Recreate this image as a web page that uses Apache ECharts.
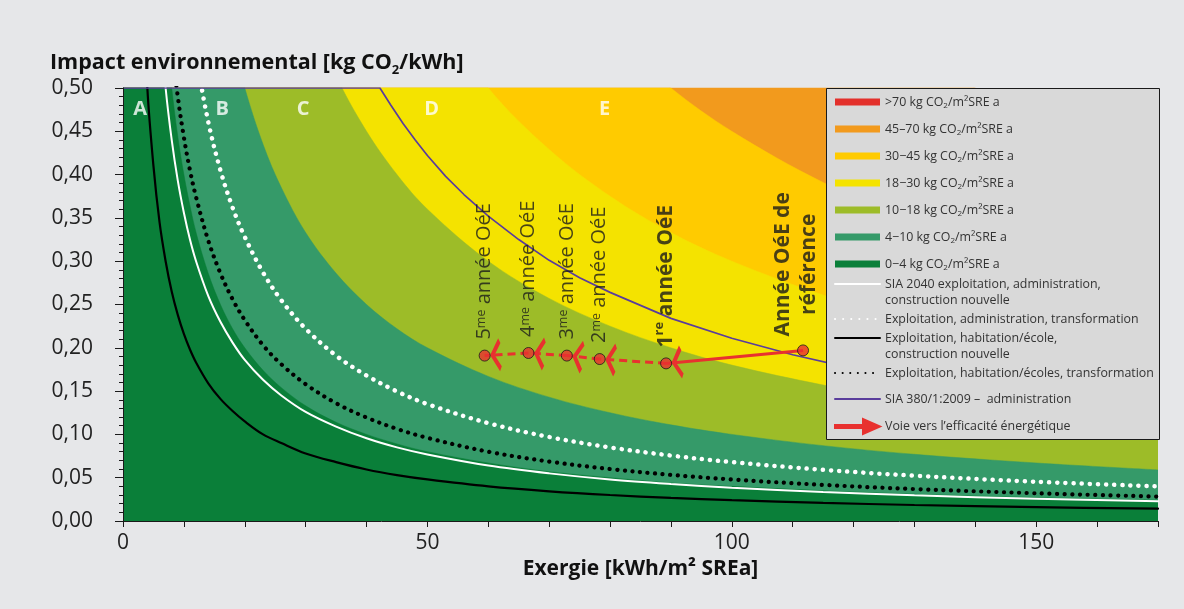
<!DOCTYPE html>
<html><head><meta charset="utf-8">
<script src="https://cdn.jsdelivr.net/npm/echarts@6/dist/echarts.min.js"></script>
<style>html,body{margin:0;padding:0;background:#e6e7e9;}#c{width:1184px;height:609px;}</style>
</head><body><div id="c"></div>
<script>
// ---- Data ----
// Exergy sample points [kWh/m² SREa]
const xs = [0, 2, 3, 4, 5, 6, 7, 8, 9, 10, 11, 12, 14, 16, 18, 20, 23, 26, 30, 35, 40, 45, 50, 60, 70, 80, 90, 100, 115, 130, 150, 170];
// Band upper limits [kg CO2/kWh]
const lim70 = [280, 35, 23.333, 17.5, 14, 11.667, 10, 8.75, 7.778, 7, 6.364, 5.833, 5, 4.375, 3.889, 3.5, 3.043, 2.692, 2.333, 2, 1.75, 1.556, 1.4, 1.167, 1, 0.875, 0.778, 0.7, 0.609, 0.538, 0.467, 0.412];
const lim45 = [180, 22.5, 15, 11.25, 9, 7.5, 6.429, 5.625, 5, 4.5, 4.091, 3.75, 3.214, 2.813, 2.5, 2.25, 1.957, 1.731, 1.5, 1.286, 1.125, 1, 0.9, 0.75, 0.643, 0.563, 0.5, 0.45, 0.391, 0.346, 0.3, 0.265];
const lim30 = [120, 15, 10, 7.5, 6, 5, 4.286, 3.75, 3.333, 3, 2.727, 2.5, 2.143, 1.875, 1.667, 1.5, 1.304, 1.154, 1, 0.857, 0.75, 0.667, 0.6, 0.5, 0.429, 0.375, 0.333, 0.3, 0.261, 0.231, 0.2, 0.176];
const lim18 = [72, 9, 6, 4.5, 3.6, 3, 2.571, 2.25, 2, 1.8, 1.636, 1.5, 1.286, 1.125, 1, 0.9, 0.783, 0.692, 0.6, 0.514, 0.45, 0.4, 0.36, 0.3, 0.257, 0.225, 0.2, 0.18, 0.157, 0.138, 0.12, 0.106];
const lim10 = [40, 5, 3.333, 2.5, 2, 1.667, 1.429, 1.25, 1.111, 1, 0.909, 0.833, 0.714, 0.625, 0.556, 0.5, 0.435, 0.385, 0.333, 0.286, 0.25, 0.222, 0.2, 0.167, 0.143, 0.125, 0.111, 0.1, 0.087, 0.077, 0.067, 0.059];
const lim4 = [16, 2, 1.333, 1, 0.8, 0.667, 0.571, 0.5, 0.444, 0.4, 0.364, 0.333, 0.286, 0.25, 0.222, 0.2, 0.174, 0.154, 0.133, 0.114, 0.1, 0.089, 0.08, 0.067, 0.057, 0.05, 0.044, 0.04, 0.035, 0.031, 0.027, 0.024];
// Reference lines
const sia2040New = [14, 1.75, 1.167, 0.875, 0.7, 0.583, 0.5, 0.44, 0.393, 0.356, 0.325, 0.3, 0.26, 0.23, 0.206, 0.186, 0.163, 0.145, 0.126, 0.109, 0.0955, 0.085, 0.0768, 0.064, 0.055, 0.048, 0.0428, 0.0385, 0.0335, 0.0296, 0.0257, 0.0227];
const adminTransf = [25, 3.2, 2.13, 1.6, 1.28, 1.07, 0.915, 0.8, 0.713, 0.642, 0.584, 0.537, 0.461, 0.405, 0.362, 0.328, 0.287, 0.255, 0.222, 0.191, 0.168, 0.1496, 0.135, 0.113, 0.097, 0.085, 0.0756, 0.068, 0.0591, 0.0523, 0.0453, 0.04];
const habNew = [10, 1.0, 0.667, 0.5, 0.41, 0.345, 0.3, 0.265, 0.238, 0.216, 0.198, 0.183, 0.159, 0.141, 0.127, 0.115, 0.1, 0.09, 0.078, 0.068, 0.0595, 0.053, 0.048, 0.04, 0.0343, 0.03, 0.0267, 0.024, 0.0209, 0.0185, 0.016, 0.0142];
const habTransf = [17, 2.2, 1.46, 1.1, 0.88, 0.735, 0.63, 0.55, 0.49, 0.443, 0.405, 0.374, 0.324, 0.286, 0.256, 0.232, 0.203, 0.181, 0.158, 0.136, 0.1195, 0.1064, 0.096, 0.08, 0.0686, 0.06, 0.0533, 0.048, 0.0417, 0.0369, 0.032, 0.0282];
// SIA 380/1:2009 administration
const siaX = [0, 42.2, 44, 46, 48, 50, 53, 56, 60, 65, 70, 75, 80, 90, 100, 110, 120, 135, 150, 170];
const siaY = [0.5, 0.5, 0.48, 0.459, 0.44, 0.422, 0.398, 0.377, 0.352, 0.325, 0.301, 0.281, 0.264, 0.234, 0.211, 0.192, 0.176, 0.156, 0.141, 0.124];
// Path towards energy efficiency
const pathX = [111.7, 89.2, 78.3, 72.9, 66.6, 59.4];
const pathY = [0.197, 0.182, 0.187, 0.191, 0.194, 0.191];
const pathLabels = ['Année OéE de\nréférence', '1re année OéE', '2me année OéE', '3me année OéE', '4me année OéE', '5me année OéE'];
// Zone letters
const zoneNames = ['A', 'B', 'C', 'D', 'E'];
const zoneX = [2.8, 16.3, 29.6, 50.7, 79.1];
const zoneY = [0.475, 0.475, 0.475, 0.475, 0.475];
// Legend names
const bandNames = ['>70 kg CO2/m²SRE a', '45–70 kg CO2/m²SRE a', '30−45 kg CO2/m²SRE a', '18−30 kg CO2/m²SRE a', '10−18 kg CO2/m²SRE a', '4−10 kg CO2/m²SRE a', '0−4 kg CO2/m²SRE a'];
const lineNames = ['SIA 2040 exploitation, administration,\nconstruction nouvelle', 'Exploitation, administration, transformation', 'Exploitation, habitation/école,\nconstruction nouvelle', 'Exploitation, habitation/écoles, transformation'];
const siaName = 'SIA 380/1:2009 –  administration';
const voieName = 'Voie vers l’efficacité énergétique';
const yTicks = [0, 0.05, 0.1, 0.15, 0.2, 0.25, 0.3, 0.35, 0.4, 0.45, 0.5];

// ---- Styling ----
const FONT = 'Open Sans';
const bandColors = ['#e3302b', '#f29a1d', '#ffcb00', '#f4e300', '#9dbc28', '#359a69', '#0a7f39'];
const bandLimits = [null, lim70, lim45, lim30, lim18, lim10, lim4];
const red = '#e8312f';

const chart = echarts.init(document.getElementById('c'));
const series = [];
bandNames.forEach((n, i) => {
  const lim = bandLimits[i];
  series.push({
    name: n, type: 'line', color: bandColors[i], silent: true, z: 1,
    data: lim ? xs.map((x, j) => [x, lim[j]]) : [],
    smooth: 0.35, symbol: 'none',
    lineStyle: { width: 0.5, color: bandColors[i] },
    areaStyle: { color: bandColors[i], opacity: 1, origin: 'start' }
  });
});
const lineDefs = [
  { data: sia2040New, color: '#ffffff', width: 2, type: 'solid' },
  { data: adminTransf, color: '#ffffff', width: 4.5, type: [0.1, 8] },
  { data: habNew, color: '#000000', width: 2.2, type: 'solid' },
  { data: habTransf, color: '#000000', width: 4.2, type: [0.1, 7.5] }
];
lineDefs.forEach((d, i) => {
  series.push({
    name: lineNames[i], type: 'line', color: d.color, silent: true, z: 3,
    data: xs.map((x, j) => [x, d.data[j]]), smooth: 0.35, symbol: 'none',
    lineStyle: { color: d.color, width: d.width, type: d.type, cap: 'round' }
  });
});
series.push({
  name: siaName, type: 'line', color: '#5a3d9c', silent: true, z: 3,
  data: siaX.map((x, j) => [x, siaY[j]]), symbol: 'none',
  lineStyle: { color: '#5a3d9c', width: 1.7 }
});
const chevron = 'path://M7.5,0 L7.5,0 Z M7.5,22 L15,31 L12.8,33 L7.5,26.5 L2.2,33 L0,31 Z';
series.push({
  name: voieName, type: 'lines', coordinateSystem: 'cartesian2d', color: red, silent: true, z: 4,
  symbol: ['none', chevron], symbolSize: [15, 33],
  lineStyle: { color: red, width: 3, opacity: 1 },
  data: pathX.slice(0, -1).map((x, i) => ({
    coords: [[x, pathY[i]], [pathX[i + 1], pathY[i + 1]]],
    lineStyle: { type: i === 0 ? 'solid' : [8, 5] }
  }))
});
const labelRich = {
  n: { fontFamily: FONT, fontSize: 20, color: '#1a1a1a' },
  ns: { fontFamily: FONT, fontSize: 12.5, color: '#1a1a1a', verticalAlign: 'top' },
  b: { fontFamily: FONT, fontSize: 21, fontWeight: 'bold', color: '#1a1a1a', lineHeight: 26 },
  bs: { fontFamily: FONT, fontSize: 13, fontWeight: 'bold', color: '#1a1a1a', verticalAlign: 'top' }
};
series.push({
  name: voieName, type: 'scatter', color: red, silent: true, z: 6,
  symbol: 'circle', symbolSize: 11,
  itemStyle: { color: red, borderColor: '#1a1a1a', borderWidth: 1 },
  data: pathX.map((x, i) => {
    const bold = i < 2;
    const base = bold ? 'b' : 'n', sup = bold ? 'bs' : 'ns';
    const m = pathLabels[i].match(/^(\d)(re|me)(.*)$/);
    const fmt = m ? `{${base}|${m[1]}}{${sup}|${m[2]}}{${base}|${m[3]}}`
                  : pathLabels[i].split('\n').map(l => `{${base}|${l}}`).join('\n');
    return {
      value: [x, pathY[i]],
      label: {
        show: true, formatter: fmt, rotate: 90, position: 'inside',
        align: m ? 'left' : 'center', verticalAlign: 'middle',
        offset: m ? [16, 0] : [86, -7], rich: labelRich
      }
    };
  })
});
series.push({
  type: 'scatter', silent: true, z: 5, symbolSize: 2,
  itemStyle: { color: 'rgba(0,0,0,0)' },
  data: zoneX.map((x, i) => ({ value: [x, zoneY[i]], name: zoneNames[i] })),
  label: { show: true, position: 'inside', formatter: p => p.name, color: '#ffffff',
           fontFamily: FONT, fontSize: 20, fontWeight: 'bold' }
});

const richCO2 = (name) => '{t|' + name.replace('CO2', 'CO}{sub|2}{t|') + '}';
const legendText = {
  fontFamily: FONT, fontSize: 12.4, color: '#333', lineHeight: 16,
  rich: {
    t: { fontFamily: FONT, fontSize: 12.4, color: '#333', lineHeight: 16 },
    sub: { fontFamily: FONT, fontSize: 8, color: '#333', verticalAlign: 'bottom', lineHeight: 10 }
  }
};
const lg = (extra) => Object.assign({
  orient: 'vertical', padding: 0, itemGap: 11, itemWidth: 45, itemHeight: 7,
  left: 834, selectedMode: false, z: 11, textStyle: legendText,
  lineStyle: { cap: 'round' }, itemStyle: { opacity: 0 }
}, extra);
const twoLine = Object.assign({}, legendText, { padding: [16, 0, 0, 0] });
const legends = [
  lg({ left: 835, top: 94, itemStyle: { opacity: 1 }, data: bandNames.map(n => ({ name: n, icon: 'rect' })), formatter: richCO2 }),
  lg({ top: 260, data: [{ name: lineNames[0] }], textStyle: twoLine }),
  lg({ top: 311, data: [{ name: lineNames[1] }] }),
  lg({ top: 314, data: [{ name: lineNames[2] }], textStyle: twoLine }),
  lg({ top: 365, data: [{ name: lineNames[3] }] }),
  lg({ top: 391, data: [{ name: siaName }] }),
  lg({ top: 418, itemHeight: 15, itemStyle: { opacity: 1 }, data: [{ name: voieName, icon: 'path://M0,6 L28,6 L28,0 L45,7.5 L28,15 L28,9 L0,9 Z' }] })
];

chart.setOption({
  backgroundColor: '#e6e7e9',
  animation: false,
  title: {
    text: '{a|Impact environnemental [kg CO}{s|2}{a|/kWh]}', left: 45, top: 44,
    textStyle: { rich: {
      a: { fontFamily: FONT, fontSize: 21.5, fontWeight: 'bold', color: '#111', lineHeight: 28 },
      s: { fontFamily: FONT, fontSize: 13, fontWeight: 'bold', color: '#111', verticalAlign: 'bottom', lineHeight: 18 }
    } }
  },
  grid: { left: 123, right: 26, top: 88, bottom: 88, show: true, backgroundColor: bandColors[0], borderWidth: 0 },
  xAxis: {
    type: 'value', min: 0, max: 170, interval: 10, z: 10,
    name: 'Exergie [kWh/m² SREa]', nameLocation: 'middle', nameGap: 38,
    nameTextStyle: { fontFamily: FONT, fontSize: 21, fontWeight: 'bold', color: '#111' },
    axisLine: { show: true, onZero: false, lineStyle: { color: '#1a1a1a', width: 1 } },
    axisTick: { show: true, length: 6, lineStyle: { color: '#1a1a1a' } },
    axisLabel: { fontFamily: FONT, fontSize: 21, color: '#222', margin: 12,
                 formatter: v => (v % 50 === 0 ? String(v) : '') },
    splitLine: { show: false }
  },
  yAxis: {
    type: 'value', min: yTicks[0], max: yTicks[yTicks.length - 1], interval: 0.05, z: 10,
    axisLine: { show: true, lineStyle: { color: '#1a1a1a', width: 1 } },
    axisTick: { show: true, length: 8, lineStyle: { color: '#1a1a1a' } },
    minorTick: { show: true, splitNumber: 5, length: 4, lineStyle: { color: '#1a1a1a' } },
    axisLabel: { fontFamily: FONT, fontSize: 21, color: '#222', margin: 30,
                 formatter: v => v.toFixed(2).replace('.', ',') },
    splitLine: { show: false }
  },
  legend: legends,
  graphic: [{ type: 'rect', z: 10, silent: true,
    shape: { x: 826.5, y: 88.5, width: 333, height: 351 },
    style: { fill: '#d9d9d9', stroke: '#1a1a1a', lineWidth: 1 } }],
  series: series
});
</script></body></html>
